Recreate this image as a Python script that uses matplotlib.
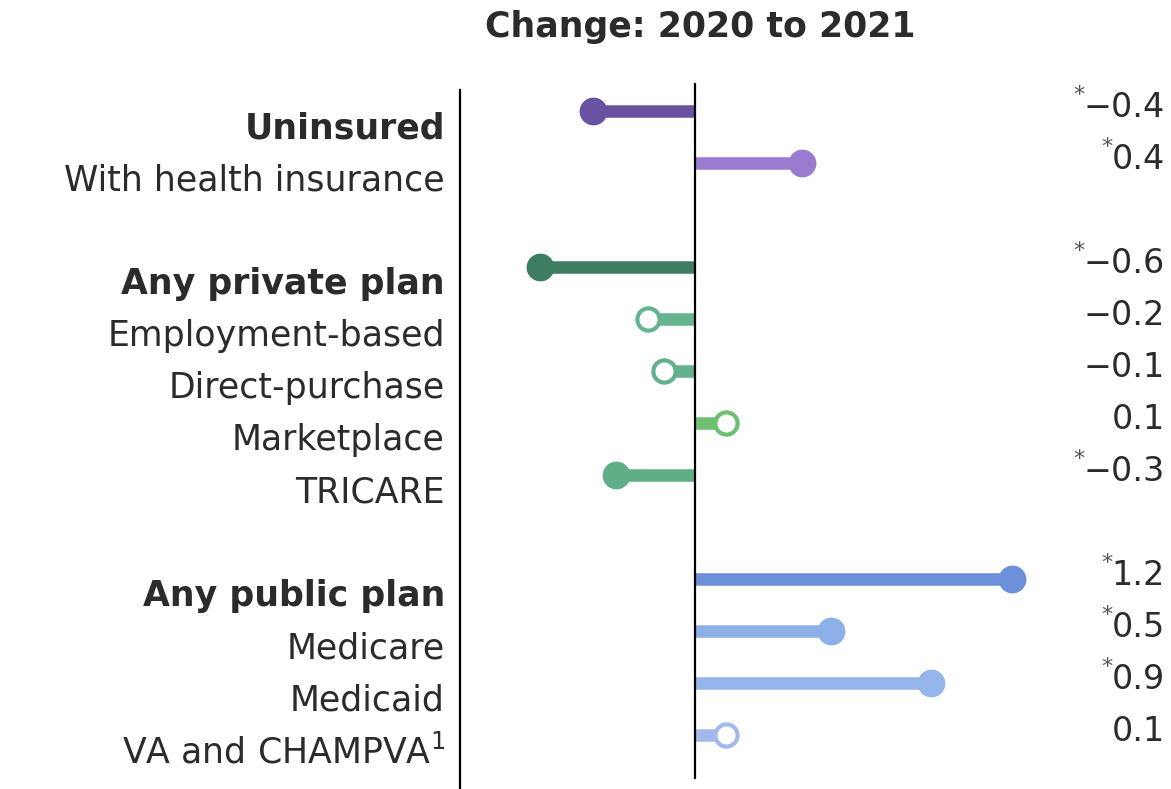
import matplotlib.pyplot as plt

# Data
labels = ["Uninsured", "With health insurance", "Any private plan",
          "Employment-based", "Direct-purchase", "Marketplace", "TRICARE",
          "Any public plan", "Medicare", "Medicaid", "VA and CHAMPVA$^1$"]
bold = [True, False, True, False, False, False, False, True, False, False, False]
rows = [0, 1, 3, 4, 5, 6, 7, 9, 10, 11, 12]
change = [-0.39, 0.41, -0.59, -0.18, -0.12, 0.12, -0.30, 1.21, 0.52, 0.90, 0.12]
change_text = ["-0.4", "0.4", "-0.6", "-0.2", "-0.1", "0.1", "-0.3", "1.2", "0.5", "0.9", "0.1"]
significant = [True, True, True, False, False, False, True, True, True, True, False]
colors = ["#6a52a3", "#9b7bd0", "#3f7d63", "#66b48f", "#62b08c", "#6cc06e",
          "#5fae86", "#6b8fd8", "#8db0e8", "#95b5ea", "#a3b9ec"]

plt.rcParams['font.family'] = ['DejaVu Sans']
fig = plt.figure(figsize=(11.71, 7.89), dpi=100)
ax = fig.add_axes([0, 0, 1, 1])
ppu = 262.0  # pixels per unit
ax.set_xlim(-695 / ppu, (1171 - 695) / ppu)
ax.set_ylim((789 - 111) / 52, -111 / 52)
ax.axis("off")

txt = "#2b2b2b"
for r, v, c, sig, lab, b, vt in zip(rows, change, colors, significant, labels, bold, change_text):
    ax.plot([0, v], [r, r], color=c, lw=9, solid_capstyle="butt", zorder=2)
    if sig:
        ax.plot(v, r, "o", ms=19, color=c, zorder=3)
    else:
        ax.plot(v, r, "o", ms=16, mfc="white", mec=c, mew=3, zorder=3)
    ax.text(-250 / ppu, r + 0.33, lab, ha="right", va="center", fontsize=25,
            fontweight="bold" if b else "normal", color=txt)
    vt = vt.replace("-", "\u2212")
    t = ax.text(1165 / ppu - 695 / ppu, r - 0.06, vt, ha="right", va="center",
                fontsize=24, color=txt)
    if sig:
        fig.canvas.draw()
        bb = t.get_window_extent()
        x0 = ax.transData.inverted().transform((bb.x0, 0))[0]
        ax.text(x0 + 1 / ppu, r - 0.3, "*", ha="right", va="center",
                fontsize=16, color="#555555")

# zero line and left divider
ax.plot([0, 0], [(84 - 111) / 52, (778 - 111) / 52], color="black", lw=1.6, zorder=4)
ax.plot([(460 - 695) / ppu] * 2, [(90 - 111) / 52, (789 - 111) / 52], color="black", lw=1.6)

ax.text((700 - 695) / ppu, (27 - 111) / 52, "Change: 2020 to 2021", ha="center", va="center",
        fontsize=25, fontweight="bold", color=txt)

fig.savefig("out.png", dpi=100)
